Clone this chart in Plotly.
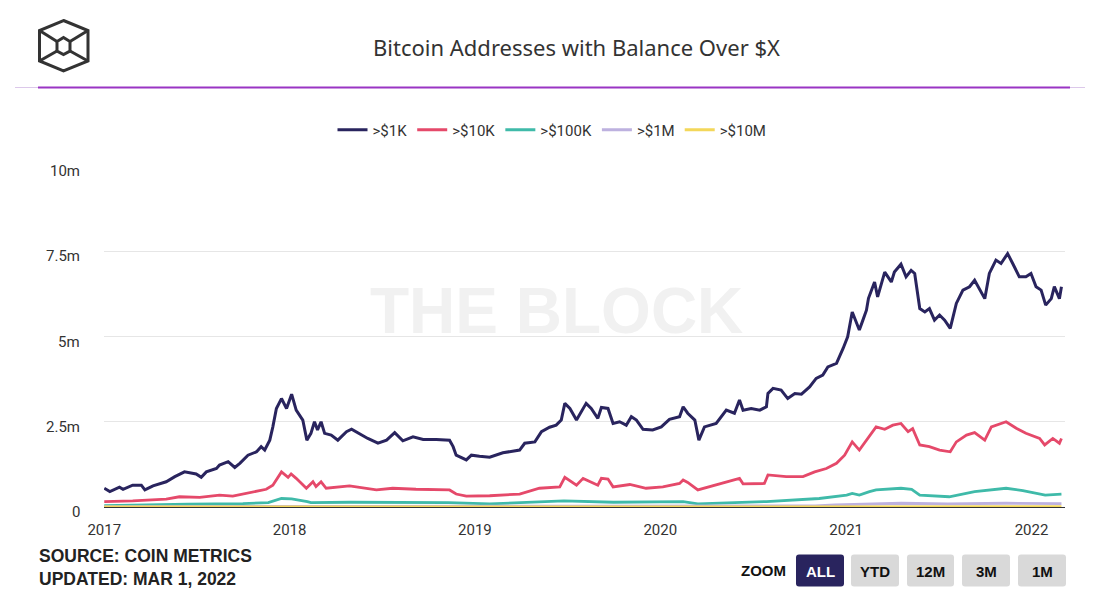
import plotly.graph_objects as go

# ---------------- data (values in millions of addresses) ----------------
k1 = [("2017-01-01",0.55),("2017-01-12",0.45),("2017-01-31",0.58),("2017-02-07",0.52),("2017-02-26",0.64),
      ("2017-03-15",0.64),("2017-03-22",0.50),("2017-04-07",0.62),("2017-05-03",0.74),("2017-05-20",0.89),
      ("2017-06-08",1.03),("2017-07-01",0.97),("2017-07-11",0.87),("2017-07-21",1.03),("2017-08-10",1.13),
      ("2017-08-16",1.23),("2017-09-02",1.33),("2017-09-15",1.16),("2017-09-25",1.28),("2017-10-11",1.52),
      ("2017-10-28",1.62),("2017-11-06",1.77),("2017-11-13",1.67),("2017-11-23",1.96),("2017-11-29",2.35),
      ("2017-12-06",2.89),("2017-12-16",3.18),("2017-12-26",2.89),("2018-01-05",3.31),("2018-01-14",2.84),
      ("2018-01-27",2.55),("2018-02-04",1.96),("2018-02-12",2.16),("2018-02-19",2.50),("2018-02-25",2.26),
      ("2018-03-04",2.50),("2018-03-11",2.16),("2018-03-24",2.11),("2018-04-06",1.96),("2018-04-23",2.21),
      ("2018-05-03",2.28),("2018-05-16",2.16),("2018-06-04",2.01),("2018-06-24",1.87),("2018-07-11",1.96),
      ("2018-07-27",2.18),("2018-08-12",1.94),("2018-09-01",2.06),("2018-09-21",1.98),("2018-10-17",1.98),
      ("2018-11-12",1.96),("2018-11-19",1.77),("2018-11-25",1.52),("2018-12-15",1.38),("2018-12-25",1.52),
      ("2019-01-10",1.49),("2019-01-30",1.46),("2019-02-25",1.59),("2019-03-30",1.67),("2019-04-09",1.87),
      ("2019-04-29",1.91),("2019-05-12",2.21),("2019-05-28",2.34),("2019-06-10",2.40),("2019-06-20",2.55),
      ("2019-06-27",3.04),("2019-07-07",2.89),("2019-07-20",2.55),("2019-07-30",2.79),("2019-08-08",3.04),
      ("2019-08-18",2.89),("2019-08-31",2.60),("2019-09-07",2.92),("2019-09-20",2.89),("2019-09-30",2.45),
      ("2019-10-13",2.50),("2019-10-26",2.40),("2019-11-05",2.65),("2019-11-15",2.55),("2019-11-28",2.28),
      ("2019-12-17",2.26),("2020-01-03",2.35),("2020-01-19",2.57),("2020-02-08",2.65),("2020-02-15",2.94),
      ("2020-02-24",2.75),("2020-03-09",2.55),("2020-03-17",1.96),("2020-03-28",2.35),("2020-04-20",2.45),
      ("2020-05-10",2.84),("2020-05-26",2.75),("2020-06-05",3.14),("2020-06-12",2.84),("2020-06-28",2.89),
      ("2020-07-15",2.84),("2020-07-28",2.94),("2020-07-31",3.33),("2020-08-10",3.48),("2020-08-26",3.43),
      ("2020-09-08",3.18),("2020-09-22",3.33),("2020-10-05",3.31),("2020-10-21",3.52),("2020-11-03",3.77),
      ("2020-11-16",3.87),("2020-11-26",4.11),("2020-12-13",4.21),("2020-12-26",4.65),("2021-01-04",4.99),
      ("2021-01-13",5.72),("2021-01-21",5.43),("2021-01-27",5.19),("2021-02-03",5.48),("2021-02-10",5.77),
      ("2021-02-14",6.12),("2021-02-26",6.60),("2021-03-04",6.16),("2021-03-18",6.89),("2021-03-31",6.60),
      ("2021-04-06",6.89),("2021-04-19",7.12),("2021-04-29",6.75),("2021-05-09",6.94),("2021-05-16",6.85),
      ("2021-05-26",5.82),("2021-06-05",5.72),("2021-06-14",5.82),("2021-06-24",5.48),("2021-07-04",5.63),
      ("2021-07-14",5.48),("2021-07-25",5.24),("2021-08-06",5.97),("2021-08-19",6.36),("2021-09-01",6.46),
      ("2021-09-11",6.65),("2021-09-21",6.36),("2021-10-01",6.11),("2021-10-10",6.85),("2021-10-23",7.24),
      ("2021-11-02",7.14),("2021-11-15",7.43),("2021-11-25",7.14),("2021-12-08",6.75),("2021-12-21",6.75),
      ("2021-12-31",6.85),("2022-01-10",6.46),("2022-01-20",6.36),("2022-01-29",5.92),("2022-02-09",6.11),
      ("2022-02-15",6.46),("2022-02-25",6.11),("2022-03-01",6.46)]

k10 = [("2017-01-01",0.16),("2017-02-26",0.18),("2017-05-03",0.23),("2017-05-29",0.30),("2017-07-08",0.28),
       ("2017-08-16",0.35),("2017-09-11",0.32),("2017-10-14",0.42),("2017-11-16",0.52),("2017-11-29",0.64),
       ("2017-12-16",1.03),("2017-12-29",0.87),("2018-01-04",0.97),("2018-01-14",0.84),("2018-02-03",0.55),
       ("2018-02-16",0.74),("2018-02-22",0.60),("2018-03-04",0.74),("2018-03-14",0.55),("2018-04-29",0.62),
       ("2018-06-21",0.50),("2018-07-23",0.55),("2018-09-07",0.52),("2018-11-12",0.50),("2018-11-25",0.38),
       ("2018-12-15",0.32),("2019-01-30",0.33),("2019-03-30",0.38),("2019-05-08",0.55),("2019-06-17",0.59),
       ("2019-06-27",0.87),("2019-07-20",0.64),("2019-08-02",0.84),("2019-08-31",0.64),("2019-09-07",0.84),
       ("2019-09-20",0.82),("2019-09-30",0.59),("2019-11-02",0.66),("2019-12-04",0.55),("2020-01-06",0.59),
       ("2020-02-08",0.69),("2020-02-15",0.79),("2020-02-24",0.72),("2020-03-15",0.50),("2020-04-20",0.64),
       ("2020-06-05",0.84),("2020-06-12",0.68),("2020-07-24",0.69),("2020-07-31",0.94),("2020-09-05",0.89),
       ("2020-10-08",0.89),("2020-10-31",1.03),("2020-11-23",1.13),("2020-12-13",1.28),("2020-12-29",1.52),
       ("2021-01-13",1.91),("2021-01-27",1.67),("2021-02-10",1.96),("2021-02-16",2.11),("2021-03-01",2.35),
       ("2021-03-18",2.28),("2021-04-03",2.40),("2021-04-19",2.45),("2021-05-03",2.21),("2021-05-12",2.30),
       ("2021-05-26",1.82),("2021-06-14",1.77),("2021-07-04",1.67),("2021-07-25",1.62),("2021-08-06",1.91),
       ("2021-08-26",2.11),("2021-09-11",2.18),("2021-10-01",1.96),("2021-10-14",2.35),("2021-11-12",2.50),
       ("2021-12-02",2.31),("2021-12-21",2.16),("2022-01-17",2.01),("2022-01-27",1.82),("2022-02-12",2.01),
       ("2022-02-25",1.87),("2022-03-01",2.01)]

k100 = [("2017-01-01",0.04),("2017-06-01",0.06),("2017-06-15",0.08),("2017-10-01",0.10),("2017-11-20",0.13),
        ("2017-12-16",0.25),("2018-01-05",0.24),("2018-02-05",0.16),("2018-02-12",0.13),("2018-05-01",0.14),
        ("2018-11-10",0.13),("2019-01-30",0.09),("2019-06-25",0.18),("2019-10-01",0.14),("2020-01-10",0.15),
        ("2020-02-15",0.16),("2020-03-15",0.09),("2020-07-28",0.16),("2020-11-09",0.25),("2021-01-02",0.35),
        ("2021-01-13",0.40),("2021-01-27",0.35),("2021-02-16",0.45),("2021-03-01",0.50),("2021-04-19",0.55),
        ("2021-05-10",0.52),("2021-05-26",0.35),("2021-07-23",0.30),("2021-09-11",0.45),("2021-11-12",0.55),
        ("2021-12-15",0.48),("2022-01-28",0.35),("2022-03-01",0.38)]

m1 = [("2017-01-01",0.012),("2017-12-16",0.03),("2018-06-01",0.02),("2019-07-01",0.025),("2020-06-01",0.025),
      ("2020-11-01",0.03),("2020-12-10",0.06),("2021-02-20",0.09),("2021-04-20",0.11),("2021-07-20",0.09),
      ("2021-11-12",0.11),("2022-03-01",0.10)]

m10 = [("2017-01-01",0.002),("2018-01-01",0.004),("2019-01-01",0.003),("2020-01-01",0.003),
       ("2021-03-01",0.008),("2021-11-12",0.009),("2022-03-01",0.008)]

series_names = [">$1K", ">$10K", ">$100K", ">$1M", ">$10M"]
series_data = [k1, k10, k100, m1, m10]
series_colors = ["#29245e", "#e5496a", "#3fbaa9", "#bdb1df", "#f3d75a"]
series_widths = [3, 2.8, 2.8, 2.8, 2.8]

y_tickvals = [0, 2.5, 5, 7.5, 10]
y_ticktext = ["0", "2.5m", "5m", "7.5m", "10m"]

# ---------------- layout geometry helpers ----------------
# The page body adds an 8px offset, so the figure is 8px smaller and margins shifted.
OFF = 8
FW, FH = 1099 - OFF, 600 - OFF
PL, PR, PT, PB = 104, 1065, 166, 507          # plot box in page pixels
L, T = PL - OFF, PT - OFF
R, B = FW - (PR - OFF), FH - (PB - OFF)
PW, PH = PR - PL, PB - PT

def px(x):
    return (x - PL) / PW

def py(y):
    return (PB - y) / PH

def path(points, close=True):
    s = "M " + " L ".join(f"{px(a):.5f},{py(b):.5f}" for a, b in points)
    return s + (" Z" if close else "")

def rrect(x0, y0, x1, y1, r):
    return (f"M {px(x0+r):.5f},{py(y0):.5f} L {px(x1-r):.5f},{py(y0):.5f} "
            f"Q {px(x1):.5f},{py(y0):.5f} {px(x1):.5f},{py(y0+r):.5f} "
            f"L {px(x1):.5f},{py(y1-r):.5f} Q {px(x1):.5f},{py(y1):.5f} {px(x1-r):.5f},{py(y1):.5f} "
            f"L {px(x0+r):.5f},{py(y1):.5f} Q {px(x0):.5f},{py(y1):.5f} {px(x0):.5f},{py(y1-r):.5f} "
            f"L {px(x0):.5f},{py(y0+r):.5f} Q {px(x0):.5f},{py(y0):.5f} {px(x0+r):.5f},{py(y0):.5f} Z")

fig = go.Figure()
for name, data, color, w in zip(series_names, series_data, series_colors, series_widths):
    xs = [d for d, _ in data]
    ys = [v for _, v in data]
    fig.add_trace(go.Scatter(x=xs, y=ys, name=name, mode="lines",
                             line=dict(color=color, width=w)))

shapes = []
logo_col = "#333333"
outer = [(63.5, 20.5), (88, 30.5), (88, 61), (63.5, 71), (39.5, 61), (39.5, 30.5)]
inner = [(63.5, 37.5), (70, 41.5), (70, 51), (63.5, 54.5), (57, 51), (57, 41.5)]
shapes.append(dict(type="path", xref="paper", yref="paper", path=path(outer),
                   line=dict(color=logo_col, width=3)))
shapes.append(dict(type="path", xref="paper", yref="paper", path=path(inner),
                   line=dict(color=logo_col, width=3)))
for (a, b), (c, d) in [((39.5, 30.5), (57, 41.5)), ((88, 30.5), (70, 41.5)),
                       ((39.5, 61), (57, 51)), ((88, 61), (70, 51))]:
    shapes.append(dict(type="line", xref="paper", yref="paper", x0=px(a), y0=py(b), x1=px(c), y1=py(d),
                       line=dict(color=logo_col, width=3)))
# title rule
shapes.append(dict(type="line", xref="paper", yref="paper", x0=px(15), x1=px(1085), y0=py(87.5), y1=py(87.5),
                   line=dict(color="#dcc8ea", width=1)))
shapes.append(dict(type="line", xref="paper", yref="paper", x0=px(38), x1=px(1070), y0=py(87.5), y1=py(87.5),
                   line=dict(color="#9a35c4", width=2)))

annotations = []
annotations.append(dict(text="THE BLOCK", xref="paper", yref="paper", x=px(556), y=py(311),
                        showarrow=False, xanchor="center", yanchor="middle",
                        font=dict(family="Liberation Sans", size=64, color="#f1f1f1", weight="bold")))
annotations.append(dict(text="Bitcoin Addresses with Balance Over $X", xref="paper", yref="paper",
                        x=px(576), y=py(47), showarrow=False, xanchor="center", yanchor="middle",
                        font=dict(family="Noto Sans", size=22, color="#333333")))
annotations.append(dict(text="<b>SOURCE: COIN METRICS</b><br><b>UPDATED: MAR 1, 2022</b>", xref="paper",
                        yref="paper", x=px(37), y=py(567.5), showarrow=False, xanchor="left",
                        yanchor="middle", align="left",
                        font=dict(family="Liberation Sans", size=17.5, color="#222222")))
annotations.append(dict(text="<b>ZOOM</b>", xref="paper", yref="paper", x=px(763), y=py(570),
                        showarrow=False, xanchor="center", yanchor="middle",
                        font=dict(family="Liberation Sans", size=15, color="#111111")))
# y-axis labels (drawn slightly below their gridlines, as in the original)
for v, t in zip(y_tickvals, y_ticktext):
    annotations.append(dict(text=t, xref="paper", yref="y", x=px(82), y=v, yshift=-5,
                            showarrow=False, xanchor="right", yanchor="middle",
                            font=dict(family="Roboto", size=15, color="#333333")))

buttons = [("ALL", 796, 844, True), ("YTD", 851, 899, False), ("12M", 907, 954, False),
           ("3M", 962, 1010, False), ("1M", 1018, 1066, False)]
for label, x0, x1, active in buttons:
    shapes.append(dict(type="path", xref="paper", yref="paper", path=rrect(x0, 554.5, x1, 586.5, 3),
                       fillcolor="#29245e" if active else "#d9d9d9", line=dict(width=0)))
    annotations.append(dict(text=f"<b>{label}</b>", xref="paper", yref="paper", x=px((x0 + x1) / 2),
                            y=py(571), showarrow=False, xanchor="center", yanchor="middle",
                            font=dict(family="Liberation Sans", size=15,
                                      color="#ffffff" if active else "#111111")))

fig.update_layout(
    width=FW, height=FH,
    margin=dict(l=L, r=R, t=T, b=B, pad=0),
    paper_bgcolor="white", plot_bgcolor="white",
    font=dict(family="Roboto", color="#333333", size=14),
    showlegend=True,
    legend=dict(orientation="h", x=px(552), xanchor="center", y=py(130), yanchor="middle",
                font=dict(family="Roboto", size=15, color="#333333"), itemwidth=30,
                bgcolor="rgba(0,0,0,0)"),
    shapes=shapes,
    annotations=annotations,
    xaxis=dict(type="date", range=["2016-12-31 12:00", "2022-03-08"], dtick="M12", tickformat="%Y",
               tick0="2017-01-01", showgrid=False, showline=True, linecolor="#333333", linewidth=1,
               ticks="outside", ticklen=9, tickcolor="rgba(0,0,0,0)",
               tickfont=dict(family="Roboto", size=15, color="#333333"), zeroline=False),
    yaxis=dict(range=[0, 10], tickvals=y_tickvals, showticklabels=False, showgrid=True,
               gridcolor="#e6e6e6", gridwidth=1, zeroline=False, showline=False),
)

fig.write_html("out.html")
